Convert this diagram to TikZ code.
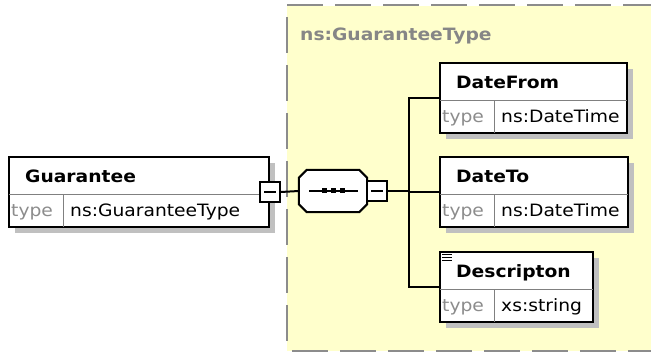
\documentclass[tikz,border=0pt]{standalone}
\usepackage{fontspec}
\setmainfont{DejaVu Sans}[FakeStretch=1.1]
\usetikzlibrary{calc}
\definecolor{yel}{HTML}{FFFFCC}
\definecolor{shc}{HTML}{C0C0C0}
\definecolor{divc}{HTML}{808080}
\definecolor{typec}{HTML}{8C8C8C}
\definecolor{titlec}{HTML}{868686}
\definecolor{edgec}{HTML}{8C8C8C}
\newcommand\xelem[6]{%
  \fill[shc] ($(#2,#3)+(7,7)$) rectangle ++(#4,70);
  \node[elem, minimum width=#4pt] (#1) at (#2,#3) {};
  \draw[divider] ($(#1.north west)+(0,38.5)$) -- ($(#1.north east)+(0,38.5)$);
  \draw[divider] ($(#1.north west)+(55.5,38.5)$) -- ($(#1.south west)+(55.5,0)$);
  \node[nametxt] (#1-n) at ($(#1.north west)+(17,27)$) {#5};
  \node[typetxt] (#1-t) at ($(#1.north west)+(3,61)$) {type};
  \node[valtxt] (#1-v) at ($(#1.north west)+(62,61)$) {#6};
}
\newcommand\octpath[1]{%
  ($(#1.north west)+(8,0)$) -- ($(#1.north east)+(-8,0)$) -- ($(#1.north east)+(0,8)$) --
  ($(#1.south east)+(0,-8)$) -- ($(#1.south east)+(-8,0)$) -- ($(#1.south west)+(8,0)$) --
  ($(#1.south west)+(0,-8)$) -- ($(#1.north west)+(0,8)$) -- cycle}
\begin{document}
\begin{tikzpicture}[x=1pt,y=-1pt,
  elem/.style={draw=black, line width=2pt, fill=white, anchor=north west, inner sep=0pt, minimum height=70pt},
  divider/.style={draw=divc, line width=1pt, shorten <=1pt, shorten >=1pt},
  nametxt/.style={anchor=base west, inner sep=0pt, font=\bfseries\fontsize{17}{20}\selectfont},
  valtxt/.style={anchor=base west, inner sep=0pt, font=\fontsize{17}{20}\selectfont},
  typetxt/.style={valtxt, text=typec},
  minusbox/.style={draw=black, line width=2pt, fill=white, minimum size=20pt, inner sep=0pt},
  minussign/.style={draw=black, line width=2pt},
  conn/.style={draw=black, line width=2pt},
  regionedge/.style={draw=edgec, line width=2pt, dash pattern=on 36pt off 12pt},
]
\useasboundingbox (0,0) rectangle (651,352);
% complex type region
\fill[yel] (287,6) rectangle (651,351);
\draw[regionedge] (287,5) -- (651,5);
\draw[regionedge, dash phase=36pt] (287,5) -- (287,351);
\draw[regionedge, dash phase=43pt] (287,351) -- (651,351);
\node[anchor=base west, inner sep=0pt, text=titlec, font=\bfseries\fontsize{17}{20}\selectfont] (title) at (300,40.5) {ns:GuaranteeType};

% Guarantee element
\xelem{g}{8}{156}{260}{Guarantee}{ns:GuaranteeType}
\node[minusbox] (gm) at (g.east) {};
\draw[minussign] ($(gm.center)+(-6,0)$) -- ($(gm.center)+(6,0)$);

% sequence compositor
\node[draw=none, minimum width=68pt, minimum height=42pt, inner sep=0pt] (seq) at (333,191) {};
\begin{scope}[shift={(7,7)}]
  \fill[shc] \octpath{seq};
\end{scope}
\filldraw[draw=black, fill=white, line width=2pt, line join=miter] \octpath{seq};
\draw[line width=2pt] ($(seq.center)+(-24,0)$) -- ($(seq.center)+(25,0)$);
\foreach \dx in {-11.5,-2.5,6.5} {\fill ($(seq.center)+(\dx,-2.5)$) rectangle ++(5,5);}
\node[minusbox] (sm) at (377,191) {};
\draw[minussign] ($(sm.center)+(-6,0)$) -- ($(sm.center)+(6,0)$);

% child elements
\xelem{df}{439}{62}{187}{DateFrom}{ns:DateTime}
\xelem{dt}{439}{156}{188}{DateTo}{ns:DateTime}
\xelem{ds}{439}{251}{153}{Descripton}{xs:string}
\foreach \yy in {3.5,6.5,9.5} {\draw[line width=1pt] ($(ds.north west)+(3,\yy)$) -- ++(10,0);}

% connectors
\coordinate (trunk) at (409,191);
\draw[conn] (gm.east) -- (seq.west);
\draw[conn] (sm.east) -- (trunk);
\draw[conn] (df.west) -| (trunk);
\draw[conn] (dt.west) -| (trunk);
\draw[conn] (ds.west) -| (trunk);
\end{tikzpicture}
\end{document}
